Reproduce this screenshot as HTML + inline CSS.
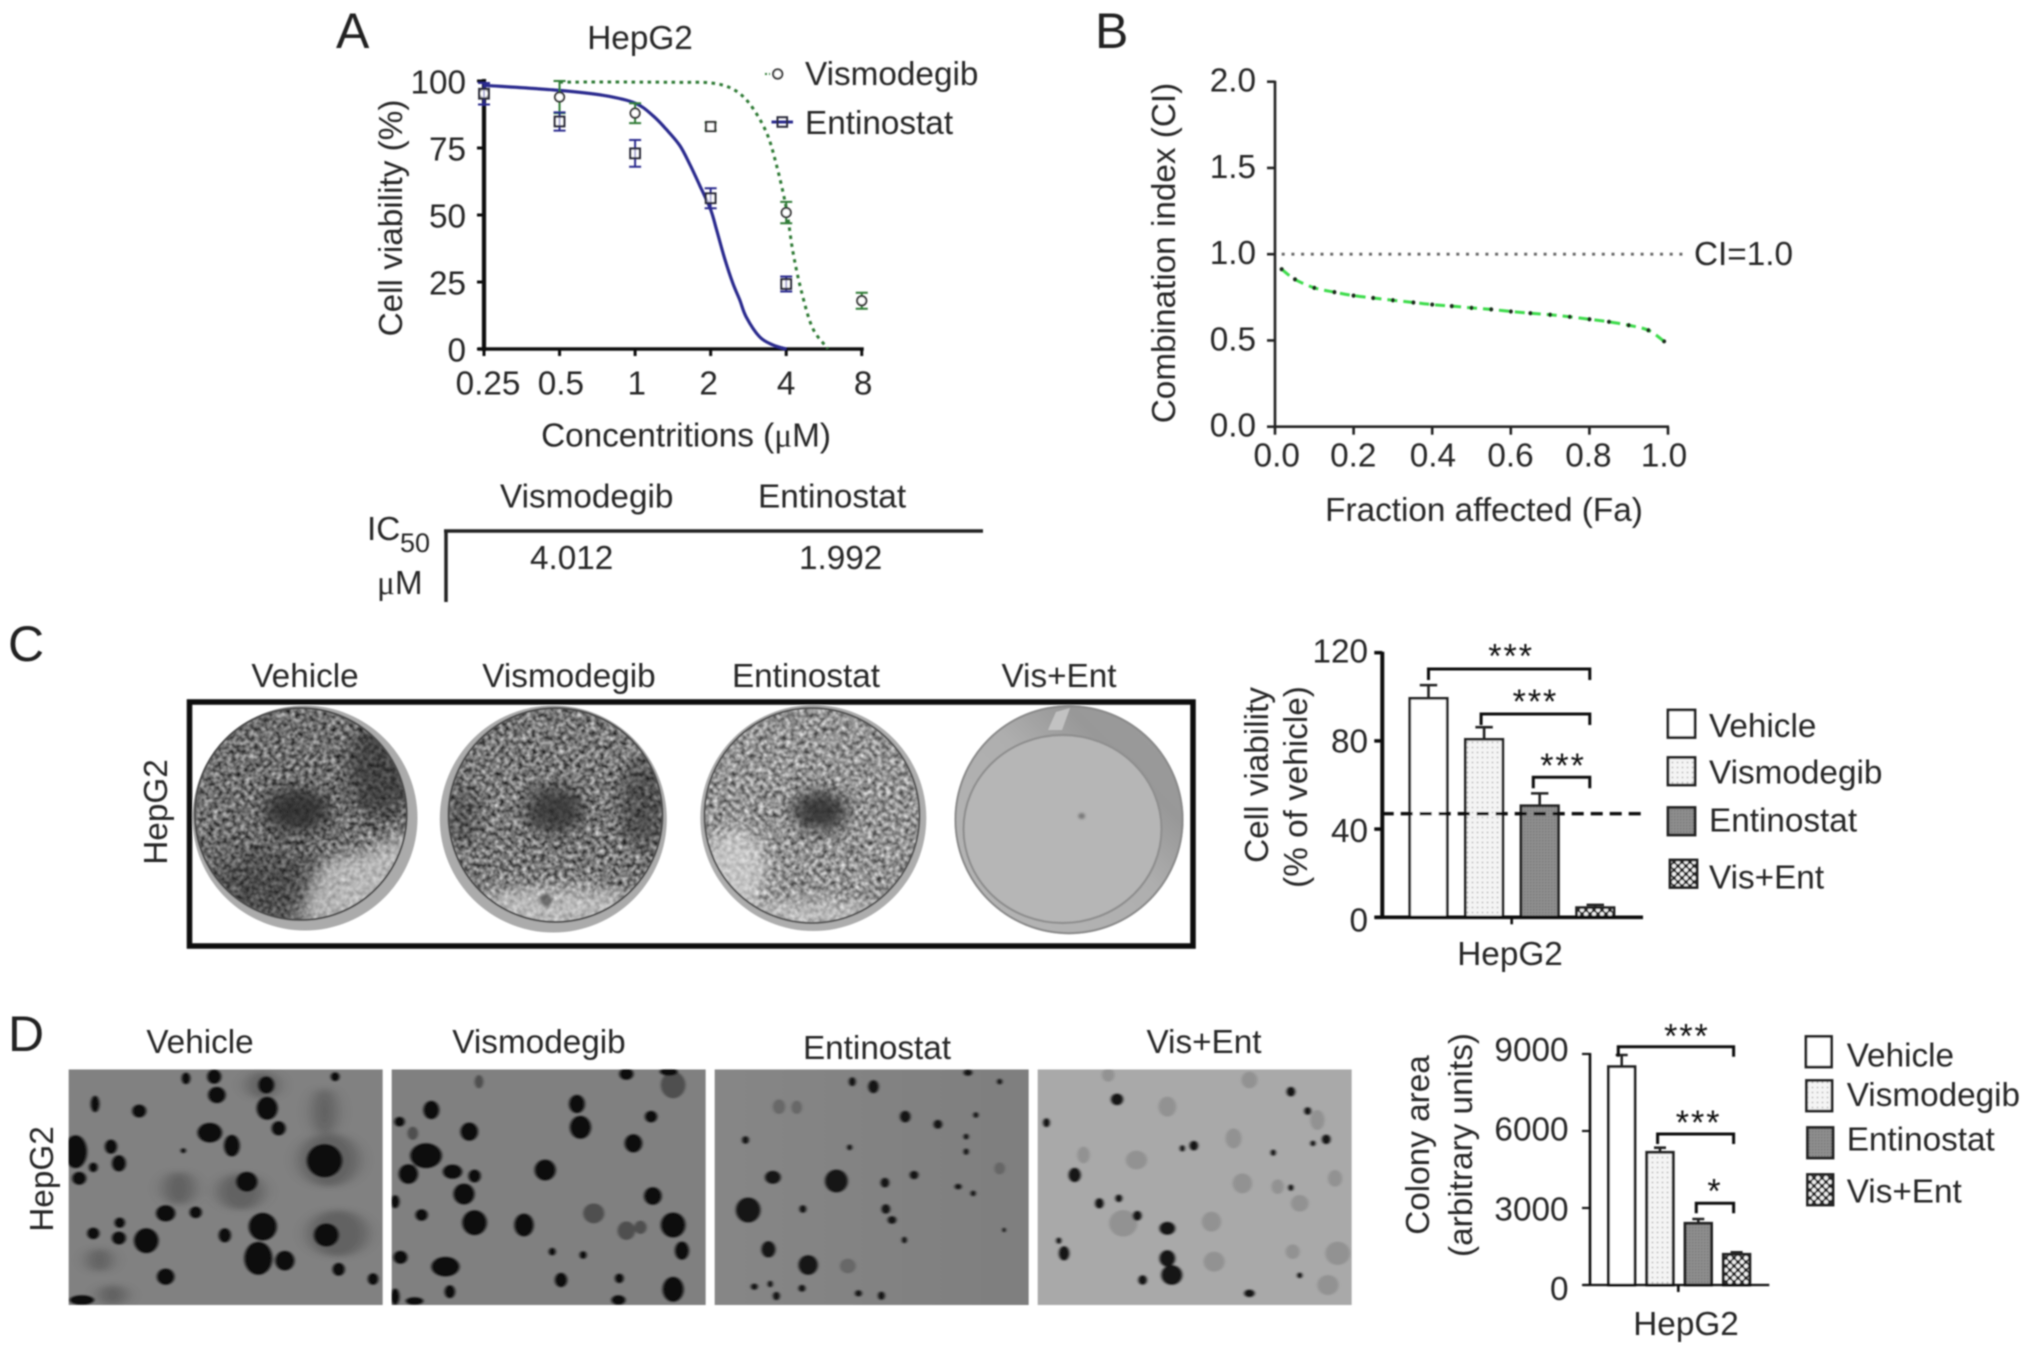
<!DOCTYPE html>
<html lang="en">
<head>
<meta charset="utf-8">
<title>HepG2 viability figure</title>
<style>
html,body{margin:0;padding:0;background:#fff;}
svg{display:block;}
text{font-family:"Liberation Sans",sans-serif;font-size:33.3px;fill:#262626;}
.serif{font-family:"Liberation Serif",serif;}
.big{font-size:50px;fill:#222;}
</style>
</head>
<body>
<svg id="fig" xmlns="http://www.w3.org/2000/svg" width="2032" height="1355" viewBox="0 0 2032 1355">
<defs>
  <filter id="soft" x="0" y="0" width="100%" height="100%"><feGaussianBlur stdDeviation="0.8"/></filter>
  <filter id="b2" x="-30%" y="-30%" width="160%" height="160%"><feGaussianBlur stdDeviation="1.4"/></filter>
  <filter id="b8" x="-60%" y="-60%" width="220%" height="220%"><feGaussianBlur stdDeviation="8"/></filter>
  <filter id="b16" x="-80%" y="-80%" width="260%" height="260%"><feGaussianBlur stdDeviation="16"/></filter>
  <filter id="noise" x="0" y="0" width="100%" height="100%" color-interpolation-filters="sRGB">
    <feTurbulence type="fractalNoise" baseFrequency="0.22" numOctaves="3" seed="7"/>
    <feColorMatrix values="1.25 0 0 0 -0.12  1.25 0 0 0 -0.12  1.25 0 0 0 -0.12  0 0 0 0 1"/>
    <feGaussianBlur stdDeviation="0.5"/>
  </filter>
  <pattern id="pat-dots" width="5" height="5" patternUnits="userSpaceOnUse"><rect width="5" height="5" fill="#f4f4f4"/><circle cx="2.5" cy="2.5" r="0.9" fill="#b5b5b5"/></pattern>
  <pattern id="pat-gray" width="3" height="3" patternUnits="userSpaceOnUse"><rect width="3" height="3" fill="#8e8e8e"/><rect width="1.5" height="1.5" fill="#7c7c7c"/></pattern>
  <pattern id="pat-check" width="8" height="8" patternUnits="userSpaceOnUse"><rect width="8" height="8" fill="#2a2a2a"/><circle cx="2" cy="2" r="2.1" fill="#f0f0f0"/><circle cx="6" cy="6" r="2.1" fill="#f0f0f0"/></pattern>
  <clipPath id="clip1"><circle cx="300.8" cy="814" r="106"/></clipPath>
  <clipPath id="clip2"><circle cx="555.5" cy="815" r="107"/></clipPath>
  <clipPath id="clip3"><circle cx="812" cy="815.5" r="107.5"/></clipPath>
  <clipPath id="clipP1"><rect x="80" y="208" width="356" height="707"/></clipPath>
  <clipPath id="clipP2"><rect x="446" y="208" width="356" height="707"/></clipPath>
  <clipPath id="clipP3"><rect x="812" y="208" width="356" height="707"/></clipPath>
  <clipPath id="clipP4"><rect x="1178" y="208" width="356" height="707"/></clipPath>
  <linearGradient id="grad3" x1="0" y1="0" x2="1" y2="0"><stop offset="0" stop-color="#868686"/><stop offset="1" stop-color="#7e7e7e"/></linearGradient>
  <linearGradient id="dish4grad" x1="0.1" y1="0.9" x2="0.9" y2="0.1"><stop offset="0" stop-color="#b4b4b4"/><stop offset="0.55" stop-color="#aeaeae"/><stop offset="0.8" stop-color="#989898"/><stop offset="1" stop-color="#9a9a9a"/></linearGradient>
</defs>
<rect width="2032" height="1355" fill="#fff"/>
<g id="root" filter="url(#soft)">

  <!-- Panel letters -->
  <text class="big" x="336" y="48">A</text>
  <text class="big" x="1095" y="48">B</text>
  <text class="big" x="8" y="661">C</text>
  <text class="big" x="8" y="1051">D</text>

  <!-- Panel A static text -->
  <g>
    <text x="640" y="49" text-anchor="middle">HepG2</text>
    <text transform="translate(402,218) rotate(-90)" text-anchor="middle">Cell viability (%)</text>
    <text x="686" y="446.5" text-anchor="middle">Concentritions (<tspan class="serif">μ</tspan>M)</text>
    <text x="805" y="85">Vismodegib</text>
    <text x="805" y="134">Entinostat</text>
    <text x="500" y="507.5">Vismodegib</text>
    <text x="758" y="507.5">Entinostat</text>
    <text x="367" y="540">IC</text>
    <text x="400" y="552" style="font-size:27px">50</text>
    <text x="377" y="594"><tspan class="serif">μ</tspan>M</text>
    <text x="530" y="569">4.012</text>
    <text x="799" y="569">1.992</text>
    <line x1="444" y1="531" x2="983" y2="531" stroke="#222" stroke-width="3.5"/>
    <line x1="446" y1="531" x2="446" y2="602" stroke="#222" stroke-width="3.5"/>
  </g>

  <!-- Panel B static text -->
  <g>
    <text transform="translate(1175,253) rotate(-90)" text-anchor="middle">Combination index (CI)</text>
    <text x="1484" y="521" text-anchor="middle">Fraction affected (Fa)</text>
    <text x="1694" y="265">CI=1.0</text>
  </g>

  <!-- Panel C photo -->
  <g>
    <text x="305" y="687" text-anchor="middle">Vehicle</text>
    <text x="569" y="687" text-anchor="middle">Vismodegib</text>
    <text x="806" y="687" text-anchor="middle">Entinostat</text>
    <text x="1059" y="687" text-anchor="middle">Vis+Ent</text>
    <text transform="translate(167,812) rotate(-90)" text-anchor="middle">HepG2</text>
    <rect x="189.5" y="702" width="1003.5" height="244" fill="none" stroke="#0c0c0c" stroke-width="5.5"/>

    <g>
      <circle cx="305" cy="818" r="112.5" fill="#ababab"/>
      <g clip-path="url(#clip1)">
        <rect x="190" y="704" width="222" height="222" filter="url(#noise)"/>
        <rect x="190" y="704" width="222" height="222" fill="#000" opacity="0.14"/>
        <ellipse cx="380" cy="770" rx="32" ry="50" fill="#222" opacity="0.55" filter="url(#b8)"/>
        <ellipse cx="266" cy="885" rx="58" ry="36" fill="#222" opacity="0.45" filter="url(#b16)"/>
        <path d="M300 925 L307 890 L325 860 L365 850 L425 825 L425 935 Z" fill="#e6e6e6" opacity="0.6" filter="url(#b8)"/>
        <ellipse cx="297" cy="810" rx="34" ry="22" fill="#2c2c2c" opacity="0.85" filter="url(#b8)"/>
      </g>
      <circle cx="300.8" cy="814" r="106" fill="none" stroke="#4e4e4e" stroke-width="2"/>
    </g>
    <g>
      <circle cx="553.3" cy="819" r="113.5" fill="#ababab"/>
      <g clip-path="url(#clip2)">
        <rect x="445" y="705" width="222" height="222" filter="url(#noise)"/>
        <rect x="445" y="705" width="222" height="222" fill="#000" opacity="0.07"/>
        <ellipse cx="642" cy="805" rx="24" ry="46" fill="#222" opacity="0.45" filter="url(#b8)"/>
        <ellipse cx="462" cy="815" rx="18" ry="30" fill="#222" opacity="0.35" filter="url(#b8)"/>
        <ellipse cx="555" cy="908" rx="90" ry="22" fill="#e6e6e6" opacity="0.6" filter="url(#b8)"/>
        <ellipse cx="555" cy="810" rx="30" ry="24" fill="#2e2e2e" opacity="0.78" filter="url(#b8)"/>
        <circle cx="546" cy="900" r="6" fill="#444" opacity="0.7" filter="url(#b2)"/>
      </g>
      <circle cx="555.5" cy="815" r="107" fill="none" stroke="#4e4e4e" stroke-width="2"/>
    </g>
    <g>
      <circle cx="813.3" cy="818" r="113" fill="#adadad"/>
      <g clip-path="url(#clip3)">
        <rect x="702" y="706" width="222" height="222" filter="url(#noise)"/>
        <rect x="702" y="706" width="222" height="222" fill="#fff" opacity="0.14"/>
        <ellipse cx="735" cy="870" rx="32" ry="42" fill="#e0e0e0" opacity="0.65" filter="url(#b8)"/>
        <ellipse cx="815" cy="915" rx="85" ry="15" fill="#ddd" opacity="0.55" filter="url(#b8)"/>
        <ellipse cx="820" cy="811" rx="28" ry="20" fill="#2c2c2c" opacity="0.85" filter="url(#b8)"/>
      </g>
      <circle cx="812" cy="815.5" r="107.5" fill="none" stroke="#555" stroke-width="2"/>
    </g>
    <g>
      <circle cx="1069" cy="819.7" r="114.5" fill="url(#dish4grad)"/>
      <circle cx="1069" cy="819.7" r="113.5" fill="none" stroke="#8a8a8a" stroke-width="2"/>
      <ellipse cx="1062.5" cy="829" rx="99" ry="94" fill="#b6b6b6" stroke="#8f8f8f" stroke-width="2.2"/>
      <ellipse cx="1081.7" cy="816" rx="3.5" ry="3" fill="#777" filter="url(#b2)"/>
      <path d="M1048 730 L1056 712 L1070 708 L1062 730 Z" fill="#c2c2c2"/>
    </g>
  </g>

  <!-- Panel D photos -->
  <g>
    <text x="200" y="1053" text-anchor="middle">Vehicle</text>
    <text x="539" y="1053" text-anchor="middle">Vismodegib</text>
    <text x="877" y="1059" text-anchor="middle">Entinostat</text>
    <text x="1204" y="1053" text-anchor="middle">Vis+Ent</text>
    <text transform="translate(53,1179) rotate(-90)" text-anchor="middle">HepG2</text>
  </g>
  <svg x="-2" y="1000" width="1378.5" height="355" viewBox="0 0 1562 1065" preserveAspectRatio="none">
    <g clip-path="url(#clipP1)">
      <rect x="80" y="208" width="356" height="707" fill="#818181"/>
      <g fill="#4a4a4a" opacity="0.55" filter="url(#b8)">
        <ellipse cx="370" cy="335" rx="14" ry="70"/><ellipse cx="375" cy="480" rx="34" ry="80"/><ellipse cx="275" cy="575" rx="26" ry="55"/><ellipse cx="205" cy="565" rx="18" ry="50"/><ellipse cx="385" cy="700" rx="34" ry="70"/><ellipse cx="115" cy="780" rx="14" ry="35"/><ellipse cx="300" cy="255" rx="18" ry="40"/><ellipse cx="130" cy="885" rx="16" ry="30"/>
      </g>
      <g fill="#0e0e0e" filter="url(#b2)">
        <ellipse cx="213" cy="235" rx="5" ry="18"/><ellipse cx="245" cy="230" rx="8" ry="22"/><ellipse cx="248" cy="285" rx="10" ry="25"/><ellipse cx="304" cy="255" rx="9" ry="26"/><ellipse cx="305" cy="325" rx="12" ry="35"/><ellipse cx="318" cy="385" rx="8" ry="22"/><ellipse cx="382" cy="230" rx="5" ry="14"/><ellipse cx="110" cy="312" rx="5" ry="25"/><ellipse cx="160" cy="333" rx="8" ry="20"/><ellipse cx="240" cy="398" rx="14" ry="30"/><ellipse cx="265" cy="437" rx="9" ry="33"/><ellipse cx="370" cy="482" rx="20" ry="50"/><ellipse cx="88" cy="455" rx="13" ry="50"/><ellipse cx="128" cy="440" rx="7" ry="22"/><ellipse cx="137" cy="490" rx="8" ry="25"/><ellipse cx="108" cy="502" rx="5" ry="15"/><ellipse cx="92" cy="535" rx="8" ry="20"/><ellipse cx="282" cy="545" rx="12" ry="30"/><ellipse cx="190" cy="640" rx="11" ry="25"/><ellipse cx="224" cy="637" rx="7" ry="18"/><ellipse cx="138" cy="668" rx="6" ry="16"/><ellipse cx="137" cy="714" rx="8" ry="20"/><ellipse cx="108" cy="700" rx="7" ry="18"/><ellipse cx="168" cy="722" rx="14" ry="38"/><ellipse cx="257" cy="706" rx="7" ry="22"/><ellipse cx="300" cy="680" rx="16" ry="42"/><ellipse cx="372" cy="705" rx="14" ry="35"/><ellipse cx="295" cy="775" rx="16" ry="50"/><ellipse cx="325" cy="782" rx="11" ry="30"/><ellipse cx="190" cy="830" rx="10" ry="25"/><ellipse cx="386" cy="808" rx="7" ry="20"/><ellipse cx="425" cy="837" rx="6" ry="18"/><ellipse cx="95" cy="900" rx="14" ry="15"/><ellipse cx="210" cy="452" rx="3" ry="8"/>
      </g>
    </g>
    <g clip-path="url(#clipP2)">
      <rect x="446" y="208" width="356" height="707" fill="#808080"/>
      <g fill="#3a3a3a" opacity="0.7" filter="url(#b2)">
        <ellipse cx="765" cy="255" rx="14" ry="40"/><ellipse cx="675" cy="640" rx="12" ry="30"/><ellipse cx="712" cy="692" rx="10" ry="28"/><ellipse cx="728" cy="682" rx="7" ry="20"/><ellipse cx="470" cy="400" rx="6" ry="20"/><ellipse cx="545" cy="245" rx="5" ry="20"/>
      </g>
      <g fill="#0e0e0e" filter="url(#b2)">
        <ellipse cx="712" cy="222" rx="8" ry="18"/><ellipse cx="760" cy="215" rx="10" ry="12"/><ellipse cx="656" cy="312" rx="9" ry="28"/><ellipse cx="660" cy="382" rx="12" ry="35"/><ellipse cx="491" cy="330" rx="9" ry="28"/><ellipse cx="534" cy="395" rx="10" ry="28"/><ellipse cx="720" cy="430" rx="10" ry="28"/><ellipse cx="740" cy="350" rx="7" ry="18"/><ellipse cx="485" cy="467" rx="18" ry="38"/><ellipse cx="465" cy="522" rx="11" ry="30"/><ellipse cx="515" cy="515" rx="11" ry="22"/><ellipse cx="540" cy="528" rx="7" ry="20"/><ellipse cx="620" cy="510" rx="12" ry="32"/><ellipse cx="528" cy="582" rx="12" ry="32"/><ellipse cx="742" cy="588" rx="10" ry="27"/><ellipse cx="480" cy="645" rx="7" ry="18"/><ellipse cx="540" cy="668" rx="14" ry="38"/><ellipse cx="596" cy="675" rx="11" ry="35"/><ellipse cx="765" cy="675" rx="14" ry="38"/><ellipse cx="775" cy="752" rx="8" ry="28"/><ellipse cx="456" cy="772" rx="8" ry="20"/><ellipse cx="507" cy="800" rx="16" ry="30"/><ellipse cx="638" cy="840" rx="7" ry="22"/><ellipse cx="704" cy="835" rx="5" ry="15"/><ellipse cx="765" cy="868" rx="12" ry="38"/><ellipse cx="703" cy="900" rx="8" ry="15"/><ellipse cx="512" cy="875" rx="6" ry="20"/><ellipse cx="472" cy="903" rx="10" ry="12"/><ellipse cx="450" cy="890" rx="5" ry="25"/><ellipse cx="628" cy="755" rx="4" ry="12"/><ellipse cx="663" cy="765" rx="4" ry="12"/><ellipse cx="450" cy="605" rx="5" ry="20"/><ellipse cx="455" cy="365" rx="6" ry="15"/>
      </g>
    </g>
    <g clip-path="url(#clipP3)">
      <rect x="812" y="208" width="356" height="707" fill="url(#grad3)"/>
      <g fill="#555" opacity="0.6" filter="url(#b2)">
        <ellipse cx="963" cy="798" rx="9" ry="22"/><ellipse cx="1135" cy="505" rx="6" ry="18"/><ellipse cx="885" cy="320" rx="7" ry="22"/><ellipse cx="905" cy="322" rx="6" ry="20"/>
      </g>
      <g fill="#141414" filter="url(#b2)">
        <ellipse cx="968" cy="245" rx="4" ry="14"/><ellipse cx="992" cy="260" rx="6" ry="20"/><ellipse cx="1099" cy="218" rx="5" ry="10"/><ellipse cx="1135" cy="245" rx="3" ry="9"/><ellipse cx="1028" cy="350" rx="6" ry="18"/><ellipse cx="1065" cy="373" rx="5" ry="14"/><ellipse cx="847" cy="420" rx="4" ry="12"/><ellipse cx="965" cy="442" rx="3" ry="9"/><ellipse cx="878" cy="532" rx="9" ry="20"/><ellipse cx="950" cy="543" rx="13" ry="35"/><ellipse cx="1005" cy="548" rx="5" ry="15"/><ellipse cx="1038" cy="525" rx="5" ry="13"/><ellipse cx="1088" cy="560" rx="4" ry="9"/><ellipse cx="1105" cy="580" rx="3" ry="9"/><ellipse cx="850" cy="630" rx="14" ry="38"/><ellipse cx="912" cy="627" rx="4" ry="12"/><ellipse cx="1006" cy="627" rx="5" ry="15"/><ellipse cx="1013" cy="660" rx="5" ry="12"/><ellipse cx="873" cy="748" rx="8" ry="25"/><ellipse cx="918" cy="795" rx="11" ry="30"/><ellipse cx="857" cy="860" rx="4" ry="10"/><ellipse cx="875" cy="852" rx="3" ry="10"/><ellipse cx="882" cy="888" rx="4" ry="13"/><ellipse cx="911" cy="865" rx="4" ry="11"/><ellipse cx="975" cy="880" rx="4" ry="10"/><ellipse cx="1001" cy="887" rx="4" ry="13"/><ellipse cx="1097" cy="455" rx="3" ry="10"/><ellipse cx="1027" cy="720" rx="3" ry="10"/><ellipse cx="1140" cy="690" rx="2" ry="7"/><ellipse cx="1097" cy="410" rx="3" ry="9"/><ellipse cx="1108" cy="345" rx="3" ry="9"/>
      </g>
    </g>
    <g clip-path="url(#clipP4)">
      <rect x="1178" y="208" width="356" height="707" fill="#a9a9a9"/>
      <g fill="#777" opacity="0.45" filter="url(#b2)">
        <ellipse cx="1325" cy="320" rx="10" ry="30"/><ellipse cx="1418" cy="240" rx="9" ry="25"/><ellipse cx="1400" cy="415" rx="9" ry="30"/><ellipse cx="1230" cy="465" rx="7" ry="25"/><ellipse cx="1290" cy="480" rx="12" ry="28"/><ellipse cx="1450" cy="560" rx="7" ry="22"/><ellipse cx="1515" cy="535" rx="8" ry="25"/><ellipse cx="1275" cy="670" rx="16" ry="40"/><ellipse cx="1375" cy="665" rx="11" ry="30"/><ellipse cx="1378" cy="785" rx="12" ry="30"/><ellipse cx="1467" cy="755" rx="8" ry="22"/><ellipse cx="1518" cy="760" rx="14" ry="35"/><ellipse cx="1507" cy="855" rx="12" ry="30"/><ellipse cx="1410" cy="550" rx="11" ry="30"/><ellipse cx="1495" cy="360" rx="8" ry="30"/><ellipse cx="1475" cy="610" rx="10" ry="25"/><ellipse cx="1258" cy="225" rx="7" ry="20"/>
      </g>
      <g fill="#171717" filter="url(#b2)">
        <ellipse cx="1268" cy="298" rx="7" ry="18"/><ellipse cx="1465" cy="275" rx="5" ry="15"/><ellipse cx="1188" cy="368" rx="4" ry="14"/><ellipse cx="1355" cy="437" rx="5" ry="15"/><ellipse cx="1484" cy="333" rx="4" ry="12"/><ellipse cx="1505" cy="418" rx="5" ry="15"/><ellipse cx="1490" cy="430" rx="3" ry="9"/><ellipse cx="1220" cy="525" rx="7" ry="22"/><ellipse cx="1445" cy="458" rx="3" ry="10"/><ellipse cx="1465" cy="563" rx="3" ry="10"/><ellipse cx="1248" cy="610" rx="5" ry="16"/><ellipse cx="1270" cy="595" rx="4" ry="12"/><ellipse cx="1291" cy="647" rx="5" ry="15"/><ellipse cx="1325" cy="685" rx="9" ry="20"/><ellipse cx="1202" cy="722" rx="3" ry="10"/><ellipse cx="1208" cy="760" rx="6" ry="22"/><ellipse cx="1325" cy="775" rx="9" ry="25"/><ellipse cx="1330" cy="825" rx="12" ry="30"/><ellipse cx="1297" cy="840" rx="5" ry="15"/><ellipse cx="1418" cy="880" rx="6" ry="12"/><ellipse cx="1475" cy="826" rx="3" ry="9"/><ellipse cx="1342" cy="445" rx="3" ry="10"/>
      </g>
    </g>
  </svg>

  <!-- Chart legends C & D static labels -->
  <g>
    <text transform="translate(1268,775) rotate(-90)" text-anchor="middle">Cell viability</text>
    <text transform="translate(1307,787) rotate(-90)" text-anchor="middle">(% of vehicle)</text>
    <text x="1510" y="965" text-anchor="middle">HepG2</text>
  </g>
  <g>
    <text transform="translate(1429,1145) rotate(-90)" text-anchor="middle">Colony area</text>
    <text transform="translate(1472,1145) rotate(-90)" text-anchor="middle">(arbitrary units)</text>
    <text x="1686" y="1335" text-anchor="middle">HepG2</text>
  </g>
  <g id="charts"></g>
</g>
</svg>
<script>
// ---- Panel A data ----
const aXTicks = [0.25, 0.5, 1, 2, 4, 8];
const aXTickLabels = ['0.25', '0.5', '1', '2', '4', '8'];
const aYTicks = [0, 25, 50, 75, 100];
const visCurveConc = [0.5, 1, 1.5, 2, 2.45, 2.86, 3.33, 3.65, 4, 4.25, 4.6, 5.1, 5.86];
const visCurveViability = [99.6, 99.6, 99.5, 99.3, 97, 91.5, 81, 69, 52.75, 36.5, 21.5, 7.75, 0.2];
const entCurveConc = [0.25, 0.5, 0.75, 1, 1.18, 1.33, 1.505, 1.65, 1.81, 2, 2.11, 2.27, 2.45, 2.61, 2.77, 3.13, 3.54, 4];
const entCurveViability = [98.4, 96.5, 94.6, 91.75, 87, 82, 76, 69, 61, 52, 44.6, 34, 24.6, 18.4, 12, 4.6, 1.5, 0];
const visPointConc = [0.25, 0.5, 1, 2, 4, 8];
const visPointMean = [95.25, 94, 88, 83, 50.9, 18];
const visPointErr = [4, 6, 3.7, 1.5, 4, 3];
const visPointShape = ['circle', 'circle', 'circle', 'square', 'circle', 'circle'];
const entPointConc = [0.25, 0.5, 1, 2, 4];
const entPointMean = [95.25, 84.9, 73, 56.25, 24.25];
const entPointErr = [4, 3.4, 5, 3.75, 2.8];
// ---- Panel B data ----
const bXTicks = [0, 0.2, 0.4, 0.6, 0.8, 1];
const bXTickLabels = ['0.0', '0.2', '0.4', '0.6', '0.8', '1.0'];
const bYTicks = [0, 0.5, 1, 1.5, 2];
const bYTickLabels = ['0.0', '0.5', '1.0', '1.5', '2.0'];
const ciFa = [0.017, 0.051, 0.1, 0.151, 0.2, 0.25, 0.3, 0.352, 0.4, 0.45, 0.5, 0.55, 0.6, 0.65, 0.7, 0.75, 0.8, 0.85, 0.9, 0.95, 0.99];
const ciValues = [0.913, 0.854, 0.805, 0.78, 0.76, 0.746, 0.733, 0.72, 0.708, 0.699, 0.689, 0.68, 0.668, 0.658, 0.649, 0.637, 0.623, 0.608, 0.588, 0.559, 0.495];
const ciReference = [1];
// ---- Panel C data ----
const cSeries = ['Vehicle', 'Vismodegib', 'Entinostat', 'Vis+Ent'];
const cValues = [99.3, 80.7, 50.6, 4.4];
const cErrors = [6, 5.5, 5.6, 1.2];
const cYTicks = [0, 40, 80, 120];
const cThreshold = [47];
const cBracketFrom = [0, 1, 2];
const cBracketLevel = [112.6, 92.2, 63.5];
const cBracketLabels = ['***', '***', '***'];
// ---- Panel D data ----
const dSeries = ['Vehicle', 'Vismodegib', 'Entinostat', 'Vis+Ent'];
const dValues = [8505, 5168, 2403, 1195];
const dErrors = [455, 182, 168, 78];
const dYTicks = [0, 3000, 6000, 9000];
const dBracketFrom = [0, 1, 2];
const dBracketLevel = [9283, 5882, 3183];
const dBracketLabels = ['***', '***', '*'];

const NS = 'http://www.w3.org/2000/svg';
const chartsRoot = document.getElementById('charts');
function mk(tag, attrs, parent, txt) {
  const n = document.createElementNS(NS, tag);
  for (const k in attrs) n.setAttribute(k, attrs[k]);
  if (txt !== undefined) n.textContent = txt;
  parent.appendChild(n);
  return n;
}
function smooth(pts) {
  let d = 'M' + pts[0][0] + ' ' + pts[0][1];
  for (let i = 0; i < pts.length - 1; i++) {
    const p0 = pts[Math.max(i - 1, 0)], p1 = pts[i], p2 = pts[i + 1], p3 = pts[Math.min(i + 2, pts.length - 1)];
    const c1x = p1[0] + (p2[0] - p0[0]) / 6, c1y = p1[1] + (p2[1] - p0[1]) / 6;
    const c2x = p2[0] - (p3[0] - p1[0]) / 6, c2y = p2[1] - (p3[1] - p1[1]) / 6;
    d += ' C' + c1x + ' ' + c1y + ' ' + c2x + ' ' + c2y + ' ' + p2[0] + ' ' + p2[1];
  }
  return d;
}

// ======== Panel A ========
const aX = c => 484 + 75.55 * Math.log2(c / 0.25);
const aY = v => 349 - 2.68 * v;
const gA = mk('g', {}, chartsRoot);


const aYAxis = mk('line', {x1: aX(0.25), y1: aY(100) - 2, x2: aX(0.25), y2: aY(0) + 2, stroke: '#111', 'stroke-width': 4.2}, gA);


const aXAxis = mk('line', {x1: aX(0.25) - 6, y1: aY(0), x2: aX(8) + 2, y2: aY(0), stroke: '#111', 'stroke-width': 3.4}, gA);


aYTicks.forEach(v => {
  const t = mk('line', {x1: aX(0.25) - 7, y1: aY(v), x2: aX(0.25), y2: aY(v), stroke: '#111', 'stroke-width': 3}, gA);
  
  
  const l = mk('text', {x: 466, y: aY(v) + 12.5, 'text-anchor': 'end'}, gA, String(v));
  
  
});
const aLabelNudge = [4, 1.3, 1.7, -2, 0, 1.4];
aXTicks.forEach((c, i) => {
  const t = mk('line', {x1: aX(c), y1: aY(0), x2: aX(c), y2: aY(0) + 7, stroke: '#111', 'stroke-width': 3}, gA);
  
  
  const l = mk('text', {x: aX(c) + aLabelNudge[i], y: 394.5, 'text-anchor': 'middle'}, gA, aXTickLabels[i]);
  
  
});
const GREEN = '#2f7a35', BLUE = '#2b2b8e';
const visLine = mk('path', {d: smooth(visCurveConc.map((c, i) => [aX(c), aY(visCurveViability[i])])), fill: 'none', stroke: GREEN, 'stroke-width': 3, 'stroke-dasharray': '3.5 4.5'}, gA);


const entLine = mk('path', {d: smooth(entCurveConc.map((c, i) => [aX(c), aY(entCurveViability[i])])), fill: 'none', stroke: BLUE, 'stroke-width': 3.2}, gA);


function aErr(g, c, m, e, col) {
  const x = aX(c), hi = aY(m + e), lo = aY(m - e);
  const p = mk('path', {d: 'M' + x + ' ' + hi + 'V' + lo + 'M' + (x - 6) + ' ' + hi + 'H' + (x + 6) + 'M' + (x - 6) + ' ' + lo + 'H' + (x + 6), fill: 'none', stroke: col, 'stroke-width': 2}, g);
  return p;
}
visPointConc.forEach((c, i) => {
  const e = aErr(gA, c, visPointMean[i], visPointErr[i], GREEN);
  
  
  const x = aX(c), y = aY(visPointMean[i]);
  const m = visPointShape[i] === 'circle'
    ? mk('circle', {cx: x, cy: y, r: 4.6, fill: '#fff', stroke: '#333', 'stroke-width': 2}, gA)
    : mk('rect', {x: x - 4.5, y: y - 4.5, width: 9, height: 9, fill: '#fff', stroke: '#333', 'stroke-width': 2.2}, gA);
  
  
});
entPointConc.forEach((c, i) => {
  const e = aErr(gA, c, entPointMean[i], entPointErr[i], BLUE);
  
  
  const x = aX(c), y = aY(entPointMean[i]);
  const m = mk('rect', {x: x - 4.8, y: y - 4.8, width: 9.6, height: 9.6, fill: '#fff', 'fill-opacity': 0.6, stroke: '#2a2a3a', 'stroke-width': 2.2}, gA);
  
  
});
const lgV = mk('circle', {cx: 777.7, cy: 74, r: 4.6, fill: '#fff', stroke: '#333', 'stroke-width': 2}, gA);


const lgVd = mk('line', {x1: 765, y1: 74, x2: 770, y2: 74, stroke: GREEN, 'stroke-width': 2, 'stroke-dasharray': '2 2'}, gA);


const lgEd = mk('line', {x1: 771.5, y1: 122, x2: 793, y2: 122, stroke: BLUE, 'stroke-width': 3}, gA);


const lgE = mk('rect', {x: 777.5, y: 117.2, width: 9.6, height: 9.6, fill: 'none', stroke: '#2a2a3a', 'stroke-width': 2}, gA);



// ======== Panel B ========
const bX = f => 1275 + 393 * f;
const bY = v => 426.7 - 172.5 * v;
const gB = mk('g', {}, chartsRoot);


const bYAxis = mk('line', {x1: bX(0), y1: bY(2) - 1, x2: bX(0), y2: bY(0) + 1, stroke: '#222', 'stroke-width': 2.6}, gB);


const bXAxis = mk('line', {x1: bX(0) - 1, y1: bY(0), x2: bX(1) + 1, y2: bY(0), stroke: '#222', 'stroke-width': 2.6}, gB);


bYTicks.forEach((v, i) => {
  const t = mk('line', {x1: bX(0) - 8, y1: bY(v), x2: bX(0), y2: bY(v), stroke: '#222', 'stroke-width': 2.6}, gB);
  
  
  const l = mk('text', {x: 1256, y: bY(v) + 10, 'text-anchor': 'end'}, gB, bYTickLabels[i]);
  
  
});
const bLabelNudge = [1.7, -0.3, 0.7, -0.3, -1, -4];
bXTicks.forEach((f, i) => {
  const t = mk('line', {x1: bX(f), y1: bY(0), x2: bX(f), y2: bY(0) + 8, stroke: '#222', 'stroke-width': 2.6}, gB);
  
  
  const l = mk('text', {x: bX(f) + bLabelNudge[i], y: 466.7, 'text-anchor': 'middle'}, gB, bXTickLabels[i]);
  
  
});
const ciRef = mk('line', {x1: 1281.7, y1: bY(ciReference[0]), x2: 1683, y2: bY(ciReference[0]), stroke: '#666', 'stroke-width': 2.8, 'stroke-dasharray': '3 6.7'}, gB);


const ciPts = ciFa.map((f, i) => [bX(f), bY(ciValues[i])]);
const ciGreen = mk('path', {d: smooth(ciPts), fill: 'none', stroke: '#3ddc4c', 'stroke-width': 3, 'stroke-dasharray': '10 6'}, gB);


ciPts.forEach(p => {
  const dot = mk('circle', {cx: p[0], cy: p[1], r: 2.1, fill: '#1a2a1f'}, gB);
  
  
});

// ======== Bar charts ========
function barChart(o) {
  const g = mk('g', {}, chartsRoot);
  
  
  const y = o.y, cx = o.cx;
  const ya = mk('line', {x1: o.axisX, y1: y(o.ticks[o.ticks.length - 1]) - 1, x2: o.axisX, y2: y(0) + 1, stroke: '#111', 'stroke-width': o.axisW}, g);
  
  
  o.ticks.forEach((v, i) => {
    const t = mk('line', {x1: o.axisX - 8, y1: y(v), x2: o.axisX, y2: y(v), stroke: '#111', 'stroke-width': o.axisW - 0.5}, g);
    
    
    const l = mk('text', {x: o.labelX, y: o.labelY(v), 'text-anchor': 'end'}, g, String(v));
    
    
  });
  o.values.forEach((v, i) => {
    const c = cx(i);
    const e = mk('path', {d: 'M' + c + ' ' + y(v) + 'V' + y(v + o.errors[i]) + 'M' + (c - o.cap) + ' ' + y(v + o.errors[i]) + 'H' + (c + o.cap), fill: 'none', stroke: '#222', 'stroke-width': 2.6}, g);
    
    
    const b = mk('rect', {x: c - o.barW / 2, y: y(v), width: o.barW, height: y(0) - y(v), fill: o.fills[i], stroke: '#222', 'stroke-width': o.barS}, g);
    
    
  });
  const xa = mk('line', {x1: o.xAxis0, y1: y(0), x2: o.xAxis1, y2: y(0), stroke: '#111', 'stroke-width': o.xAxisW}, g);
  
  
  const xt = mk('line', {x1: o.tickX, y1: y(0), x2: o.tickX, y2: y(0) + 7, stroke: '#111', 'stroke-width': 2.6}, g);
  
  
  o.bFrom.forEach((f, i) => {
    const ly = y(o.bLevel[i]);
    const x0 = cx(f) - o.bLeftOff[i], x1 = cx(o.values.length - 1) - o.bRightOff;
    const b = mk('path', {d: 'M' + x0 + ' ' + (ly + o.bDrop) + 'V' + ly + 'H' + x1 + 'V' + (ly + o.bDrop), fill: 'none', stroke: '#111', 'stroke-width': 3}, g);
    
    
    const s = mk('text', {x: (x0 + x1) / 2 + o.starDx[i], y: ly - o.starDy[i], 'text-anchor': 'middle', style: 'font-size:34px;letter-spacing:2px;fill:#111'}, g, o.bLabels[i]);
    
    
  });
  o.series.forEach((name, i) => {
    const r = mk('rect', {x: o.legX[i], y: o.legY[i], width: o.legW, height: o.legH, fill: o.fills[i], stroke: '#222', 'stroke-width': 2.8}, g);
    
    
    const l = mk('text', {x: o.legTextX, y: o.legBase[i]}, g, name);
    
    
  });
  return g;
}
const barFills = ['#fff', 'url(#pat-dots)', 'url(#pat-gray)', 'url(#pat-check)'];
const cY = v => 917.3 - 2.205 * v;
const gC = barChart({
  name: 'panel-c', series: cSeries, values: cValues, errors: cErrors, ticks: cYTicks, fills: barFills,
  y: cY, cx: i => 1428.5 + i * 55.6, axisX: 1382.3, axisW: 4, xAxisW: 3.7, labelX: 1368, labelY: v => 931.7 - 2.242 * v,
  cap: 8.7, barW: 37.5, barS: 2.7, xAxis0: 1375, xAxis1: 1643, tickX: 1511.7,
  bFrom: cBracketFrom, bLevel: cBracketLevel, bLabels: cBracketLabels, bLeftOff: [0, 3, 6.4], bRightOff: 5.5, bDrop: 11, starDx: [2, 0, 1.5], starDy: [1.5, 1, 0.5],
  legX: [1668, 1668, 1668, 1670], legY: [710, 757.5, 807.5, 860], legW: 27, legH: 27.5, legTextX: 1709, legBase: [737, 783.3, 831.7, 888.3]
});
const thr = mk('line', {x1: 1381.7, y1: cY(cThreshold[0]), x2: 1642, y2: cY(cThreshold[0]), stroke: '#111', 'stroke-width': 3.4, 'stroke-dasharray': '12 7'}, gC);


barChart({
  name: 'panel-d', series: dSeries, values: dValues, errors: dErrors, ticks: dYTicks, fills: barFills,
  y: v => 1285 - 0.02567 * v, cx: i => 1621.7 + i * 38.3, axisX: 1590, axisW: 2.6, xAxisW: 2.2, labelX: 1568.5, labelY: v => 1300 - 0.02655 * v,
  cap: 6, barW: 26.5, barS: 2.9, xAxis0: 1583.3, xAxis1: 1769.3, tickX: 1678.3,
  bFrom: dBracketFrom, bLevel: dBracketLevel, bLabels: dBracketLabels, bLeftOff: [3.4, 2.4, 2], bRightOff: 3, bDrop: 10, starDx: [11, 3, 0], starDy: [-1, 0, 1],
  legX: [1806, 1806.5, 1807.5, 1807.5], legY: [1036.5, 1080.5, 1127.5, 1174.5], legW: 25.5, legH: 30.5, legTextX: 1846.7, legBase: [1066.7, 1106, 1150.7, 1202.3]
});
</script>
</body>
</html>
